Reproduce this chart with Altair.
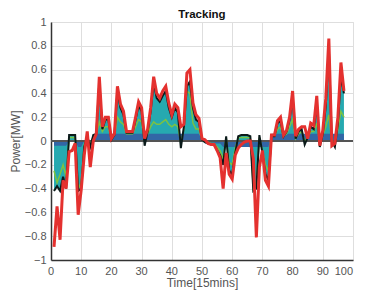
import altair as alt
import pandas as pd

t = list(range(1, 98))

red = [-0.89, -0.55, -0.83, -0.33, -0.40, -0.09, -0.08, -0.02, -0.62, -0.41,
       -0.12, 0.08, -0.22, 0.00, 0.06, 0.54, 0.12, 0.20, 0.20, 0.02,
       0.06, 0.46, 0.31, 0.25, 0.08, 0.08, 0.08, 0.20, 0.33, 0.28,
       0.02, 0.10, 0.28, 0.54, 0.40, 0.36, 0.42, 0.46, 0.32, 0.22,
       0.31, 0.28, 0.12, 0.14, 0.57, 0.60, 0.32, 0.22, 0.19, 0.02,
       0.01, -0.02, -0.03, -0.03, -0.08, -0.14, -0.40, -0.10, -0.28, -0.32,
       -0.12, -0.06, -0.03, -0.01, 0.00, 0.00, -0.15, -0.81, -0.22, -0.08,
       -0.33, -0.38, 0.05, 0.05, 0.17, 0.20, 0.05, 0.09, 0.20, 0.42,
       0.04, 0.10, 0.12, 0.12, 0.02, 0.15, 0.13, 0.38, -0.04, 0.09,
       0.36, 0.86, -0.04, -0.02, 0.20, 0.66, 0.42]

black = [-0.42, -0.38, -0.42, -0.30, -0.40, 0.05, 0.05, 0.05, -0.42, -0.40,
         -0.05, 0.04, -0.05, 0.05, 0.06, 0.50, 0.10, 0.18, 0.18, 0.01,
         0.05, 0.42, 0.28, 0.22, 0.07, 0.07, 0.07, 0.18, 0.30, 0.25,
         -0.04, 0.08, 0.25, 0.50, 0.36, 0.33, 0.38, 0.42, 0.28, 0.20,
         0.28, 0.24, -0.06, 0.12, 0.46, 0.50, 0.28, 0.18, 0.16, 0.01,
         -0.01, -0.02, -0.03, -0.03, -0.08, -0.12, -0.20, 0.04, -0.25, -0.28,
         -0.10, 0.04, 0.05, 0.05, 0.05, 0.04, -0.42, -0.40, 0.05, -0.10,
         -0.28, -0.33, 0.04, 0.04, 0.15, 0.17, 0.04, 0.08, 0.18, 0.38,
         0.02, 0.08, 0.10, -0.03, 0.03, 0.12, 0.10, 0.32, -0.05, 0.06,
         0.30, 0.78, 0.00, -0.05, 0.15, 0.55, 0.40]

green = [-0.25, -0.35, -0.28, -0.20, -0.30, 0.03, 0.03, 0.03, -0.40, -0.35,
         -0.03, 0.03, -0.03, 0.04, 0.06, 0.16, 0.08, 0.12, 0.12, 0.02,
         0.05, 0.20, 0.16, 0.14, 0.06, 0.06, 0.06, 0.12, 0.18, 0.16,
         0.00, 0.06, 0.12, 0.16, 0.14, 0.14, 0.16, 0.18, 0.14, 0.12,
         0.14, 0.12, -0.02, 0.10, 0.42, 0.40, 0.15, 0.10, 0.10, 0.01,
         -0.01, -0.01, -0.02, -0.02, -0.05, -0.08, -0.15, 0.03, -0.18, -0.20,
         -0.06, 0.03, 0.03, 0.03, 0.03, 0.03, -0.40, -0.35, 0.03, -0.08,
         -0.20, -0.25, 0.04, 0.04, 0.10, 0.12, 0.04, 0.06, 0.12, 0.18,
         0.02, 0.06, 0.08, 0.00, 0.03, 0.08, 0.08, 0.15, -0.02, 0.05,
         0.12, 0.22, 0.00, -0.02, 0.10, 0.25, 0.20]

blue = [-0.04, -0.04, -0.04, -0.04, -0.04, 0.00, 0.00, 0.00, -0.05, -0.05,
        0.00, 0.00, 0.00, 0.03, 0.06, 0.06, 0.06, 0.06, 0.06, 0.06,
        0.06, 0.06, 0.06, 0.06, 0.06, 0.06, 0.06, 0.06, 0.06, 0.06,
        0.06, 0.06, 0.06, 0.06, 0.06, 0.06, 0.06, 0.06, 0.06, 0.06,
        0.06, 0.06, 0.06, 0.06, 0.06, 0.06, 0.06, 0.06, 0.06, 0.00,
        -0.02, -0.02, -0.02, -0.02, -0.02, -0.02, -0.05, -0.05, -0.05, -0.05,
        -0.05, -0.05, -0.05, -0.05, -0.05, -0.05, -0.05, -0.05, -0.05, -0.05,
        -0.05, -0.05, 0.06, 0.06, 0.06, 0.06, 0.06, 0.06, 0.06, 0.06,
        0.06, 0.06, 0.06, 0.06, 0.06, 0.06, 0.06, 0.06, 0.06, 0.06,
        0.06, 0.06, 0.06, 0.06, 0.06, 0.06, 0.06]

x_ticks = list(range(0, 101, 10))
y_ticks = [-1, -0.8, -0.6, -0.4, -0.2, 0, 0.2, 0.4, 0.6, 0.8, 1]

df = pd.DataFrame({"t": t, "red": red, "black": black, "green": green, "blue": blue})
xdf_inner = pd.DataFrame({"tick": x_ticks[:-1], "label": [str(v) for v in x_ticks[:-1]]})
xdf_last = pd.DataFrame({"tick": x_ticks[-1:], "label": [str(v) for v in x_ticks[-1:]]})

FONT = "Liberation Sans"
PLOT_H = 238
xs = alt.Scale(domain=[0, 100], nice=False, zero=False)
ys = alt.Scale(domain=[-1, 1], nice=False)

x_axis = alt.Axis(values=x_ticks, tickCount=len(x_ticks), title="Time[15mins]",
                  labels=False, titlePadding=17)
y_axis = alt.Axis(values=y_ticks, tickCount=len(y_ticks), title="Power[MW]",
                  labelPadding=5, titlePadding=2, format=".1~f",
                  labelFlush=False, labelBound=False)

X = alt.X("t:Q", scale=xs, axis=x_axis)


def Y(field):
    return alt.Y(f"{field}:Q", scale=ys, axis=y_axis)


base = alt.Chart(df)

teal = base.mark_area(color="#26a9b0", opacity=1).encode(x=X, y=Y("black"), y2=alt.datum(0))
blue_area = base.mark_area(color="#3266a6", opacity=1).encode(x=X, y=Y("blue"), y2=alt.datum(0))
zero_rule = base.mark_rule(color="#555555", strokeWidth=1).encode(y=alt.datum(0))
green_line = base.mark_line(color="#7cc242", strokeWidth=1.5).encode(x=X, y=Y("green"))
black_line = base.mark_line(color="#0b1a1a", strokeWidth=2).encode(x=X, y=Y("black"))
red_line = base.mark_line(color="#e4312f", strokeWidth=3).encode(x=X, y=Y("red"))

x_labels = alt.Chart(xdf_inner).mark_text(
    font=FONT, fontSize=11, color="#555555", baseline="top", align="center"
).encode(
    x=alt.X("tick:Q", scale=xs, axis=x_axis),
    y=alt.value(PLOT_H + 6),
    text="label:N",
)
x_label_last = alt.Chart(xdf_last).mark_text(
    font=FONT, fontSize=11, color="#555555", baseline="top", align="right"
).encode(
    x=alt.X("tick:Q", scale=xs, axis=x_axis),
    y=alt.value(PLOT_H + 6),
    text="label:N",
)

chart = alt.layer(teal, blue_area, zero_rule, green_line, black_line, red_line,
                  x_labels, x_label_last).properties(
    width=302,
    height=PLOT_H,
    title=alt.TitleParams("Tracking", font=FONT, fontSize=11.5, fontWeight="bold",
                          color="#111111", offset=-4, anchor="middle"),
    autosize=alt.AutoSizeParams(type="none"),
    padding={"left": 43, "top": 14, "right": 28, "bottom": 30},
).configure_view(stroke="#d6d6d6", strokeWidth=1).configure(
    background="white"
).configure_axis(
    grid=True, gridColor="#dedede", gridWidth=1, ticks=False,
    labelFont=FONT, labelFontSize=11, labelColor="#555555", labelOverlap=False,
    titleFont=FONT, titleFontSize=12, titleFontWeight="normal", titleColor="#555555",
    domainColor="#333333", domainWidth=1.5,
)

chart.save("out.html", embed_options={"renderer": "svg", "actions": False})
